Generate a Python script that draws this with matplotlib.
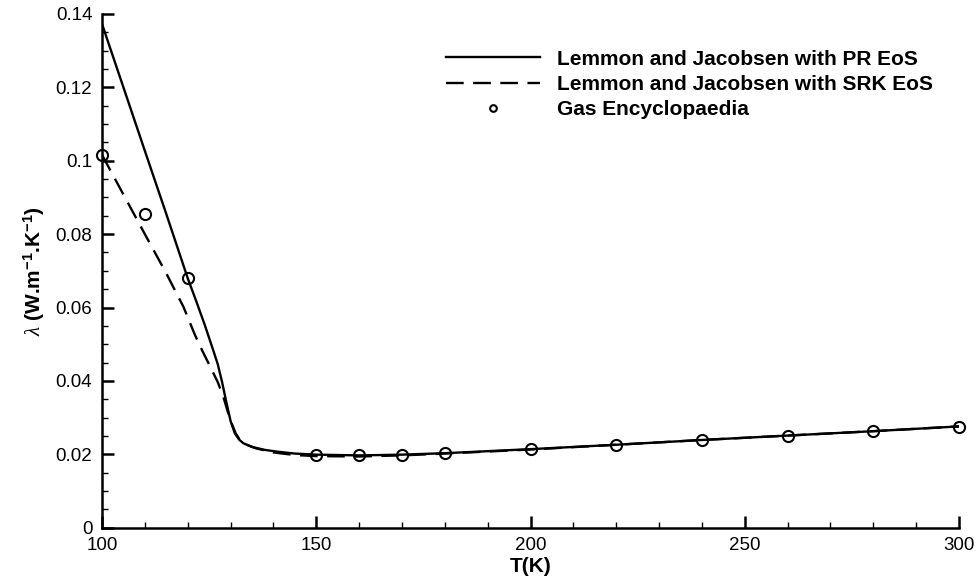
import matplotlib
matplotlib.use("Agg")
import matplotlib.pyplot as plt
from matplotlib.ticker import MultipleLocator

plt.rcParams['font.family'] = ['Liberation Sans', 'DejaVu Sans']
plt.rcParams['mathtext.fontset'] = 'custom'
plt.rcParams['mathtext.rm'] = 'Liberation Sans:bold'
plt.rcParams['mathtext.bf'] = 'Liberation Sans:bold'
plt.rcParams['mathtext.it'] = 'Liberation Serif:italic'

# Lemmon & Jacobsen, PR EoS
T_pr = [100, 105, 110, 115, 120, 122, 124, 126, 127, 128, 129, 130, 131, 132, 133,
        135, 138, 141, 145, 150, 160, 170, 180, 200, 220, 240, 260, 280, 300]
k_pr = [0.1373, 0.1200, 0.1027, 0.0855, 0.0680, 0.0617, 0.0552, 0.0482, 0.0446, 0.0398,
        0.0343, 0.0291, 0.0257, 0.0240, 0.0230, 0.0220, 0.0212, 0.0207, 0.0202, 0.0199,
        0.0197, 0.0199, 0.0203, 0.0214, 0.0226, 0.0239, 0.0251, 0.0263, 0.0276]

# Lemmon & Jacobsen, SRK EoS
T_srk = [100, 105, 110, 115, 119, 121.7, 123.5, 125.2, 127, 128.3, 129.3, 130.3, 131.2,
         132.2, 134, 136, 140, 145, 150, 160, 170, 180, 200, 220, 240, 260, 280, 300]
k_srk = [0.1016, 0.0908, 0.0800, 0.0693, 0.0602, 0.0525, 0.0480, 0.0440, 0.0397, 0.0357,
         0.0318, 0.0283, 0.0257, 0.0239, 0.0225, 0.0216, 0.0205, 0.0198, 0.0195, 0.0194,
         0.0197, 0.0202, 0.0213, 0.0226, 0.0239, 0.0251, 0.0263, 0.0276]

# Gas Encyclopaedia
T_ge = [100, 110, 120, 150, 160, 170, 180, 200, 220, 240, 260, 280, 300]
k_ge = [0.1016, 0.0855, 0.0680, 0.0198, 0.0197, 0.0198, 0.0203, 0.0215, 0.0226,
        0.0239, 0.0251, 0.0264, 0.0275]

fig = plt.figure(figsize=(9.78, 5.83), dpi=100)
ax = fig.add_axes([0.1043, 0.0949, 0.8763, 0.8811])

ax.plot(T_pr, k_pr, color='black', lw=1.7, label='Lemmon and Jacobsen with PR EoS')
ax.plot(T_srk, k_srk, color='black', lw=1.7, linestyle=(0, (7.5, 4.0)),
        label='Lemmon and Jacobsen with SRK EoS')
ax.plot(T_ge, k_ge, linestyle='none', marker='o', ms=8, mfc='none', mec='black',
        mew=1.5, label='Gas Encyclopaedia', clip_on=False)

ax.set_xlim(100, 300)
ax.set_ylim(0, 0.14)
ax.xaxis.set_major_locator(MultipleLocator(50))
ax.xaxis.set_minor_locator(MultipleLocator(10))
ax.yaxis.set_minor_locator(MultipleLocator(0.005))
ax.set_yticks([0, 0.02, 0.04, 0.06, 0.08, 0.1, 0.12, 0.14])
ax.set_yticklabels(['0', '0.02', '0.04', '0.06', '0.08', '0.1', '0.12', '0.14'])

for s in ['top', 'right']:
    ax.spines[s].set_visible(False)
for s in ['left', 'bottom']:
    ax.spines[s].set_linewidth(1.8)

ax.tick_params(which='major', direction='in', length=8.5, width=1.8, labelsize=13.5)
ax.tick_params(which='minor', direction='in', length=4.3, width=1.0)
ax.tick_params(axis='x', which='major', pad=7)
ax.tick_params(axis='y', which='major', pad=7)

ax.set_xlabel('T(K)', fontsize=15, fontweight='bold', labelpad=2)
ax.set_ylabel(r'$\it{\lambda}$ (W.m$^{-1}$.K$^{-1}$)', fontsize=15, fontweight='bold',
              labelpad=6)

ax.legend(loc='upper left', bbox_to_anchor=(0.379, 0.967), frameon=False,
          handlelength=4.55, handletextpad=0.82, labelspacing=0.3, markerscale=0.6,
          prop={'weight': 'bold', 'size': 15})

fig.savefig('out.png', dpi=100)
